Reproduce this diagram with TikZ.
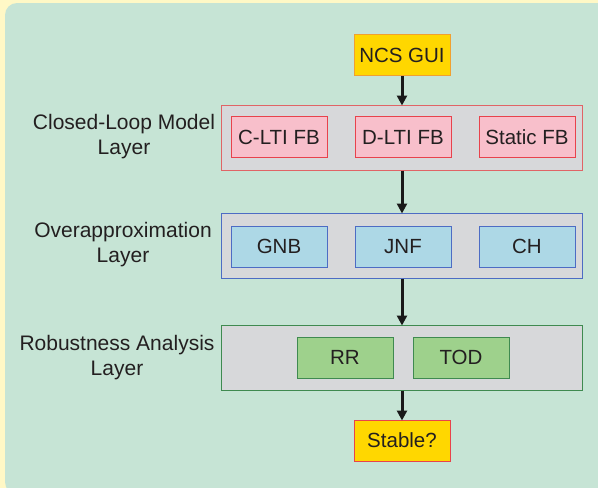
\documentclass[tikz,border=0pt]{standalone}
\usepackage{fontspec}
\setmainfont{Liberation Sans}
\usetikzlibrary{arrows.meta}
\definecolor{bgyellow}{HTML}{FFF8C6}
\definecolor{panel}{HTML}{C6E4D5}
\definecolor{laygray}{HTML}{D7D8DA}
\definecolor{pinkf}{HTML}{F8BFCB}
\definecolor{pinkd}{HTML}{E8424C}
\definecolor{redlay}{HTML}{E06466}
\definecolor{bluef}{HTML}{ADD8E6}
\definecolor{blued}{HTML}{4D6CC4}
\definecolor{greenf}{HTML}{9ED18C}
\definecolor{greend}{HTML}{3F8A50}
\definecolor{goldf}{HTML}{FFD700}
\definecolor{golddraw}{HTML}{F0A030}
\definecolor{txt}{HTML}{231F20}
\tikzset{
  lbl/.style={font=\fontsize{21}{25}\selectfont, text=txt, inner sep=0pt},
  layer/.style={draw, fill=laygray, line width=1pt, minimum width=361pt, minimum height=65pt, inner sep=0pt},
  inbox/.style={draw, line width=1pt, minimum width=96pt, minimum height=41pt, inner sep=0pt, font=\fontsize{20.5}{24}\selectfont, text=txt},
  pinkbox/.style={inbox, fill=pinkf, draw=pinkd},
  bluebox/.style={inbox, fill=bluef, draw=blued},
  greenbox/.style={inbox, fill=greenf, draw=greend},
  goldbox/.style={inbox, fill=goldf},
  arr/.style={line width=3pt, draw=black!90, -{Triangle[length=10pt,width=10pt]}, shorten >=-1pt}
}
\begin{document}
\begin{tikzpicture}[x=1pt,y=-1pt]
\useasboundingbox (0,0) rectangle (598,488);
\fill[bgyellow] (0,0) rectangle (598,488);
\fill[panel, rounded corners=12pt] (5,3) rectangle (630,494);

\node[goldbox, draw=golddraw] (ncs) at (402,55) {NCS GUI};

\node[layer, draw=redlay] (L1) at (402,137.5) {};
\node[pinkbox] (clti) at (279,137) {C-LTI FB};
\node[pinkbox] (dlti) at (403,137) {D-LTI FB};
\node[pinkbox] (stat) at (527,137) {Static FB};

\node[layer, draw=blued] (L2) at (402,245.5) {};
\node[bluebox] (gnb) at (279,246.5) {GNB};
\node[bluebox] (jnf) at (403,246.5) {JNF};
\node[bluebox] (ch) at (527,246.5) {CH};

\node[layer, draw=greend] (L3) at (402,357.5) {};
\node[greenbox] (rr) at (345,357.5) {RR};
\node[greenbox] (tod) at (461,357.5) {TOD};

\node[goldbox, draw=pinkd] (stable) at (402,440.5) {Stable?};

\node[lbl, align=center] (t1) at (124,137) {Closed-Loop Model\\Layer};
\node[lbl, align=center] (t2) at (123,245) {Overapproximation\\Layer};
\node[lbl, align=center] (t3) at (117,357.5) {Robustness Analysis\\Layer};

\draw[arr] (ncs) -- (L1);
\draw[arr] (L1) -- (L2);
\draw[arr] (L2) -- (L3);
\draw[arr] (L3) -- (stable);
\end{tikzpicture}
\end{document}
